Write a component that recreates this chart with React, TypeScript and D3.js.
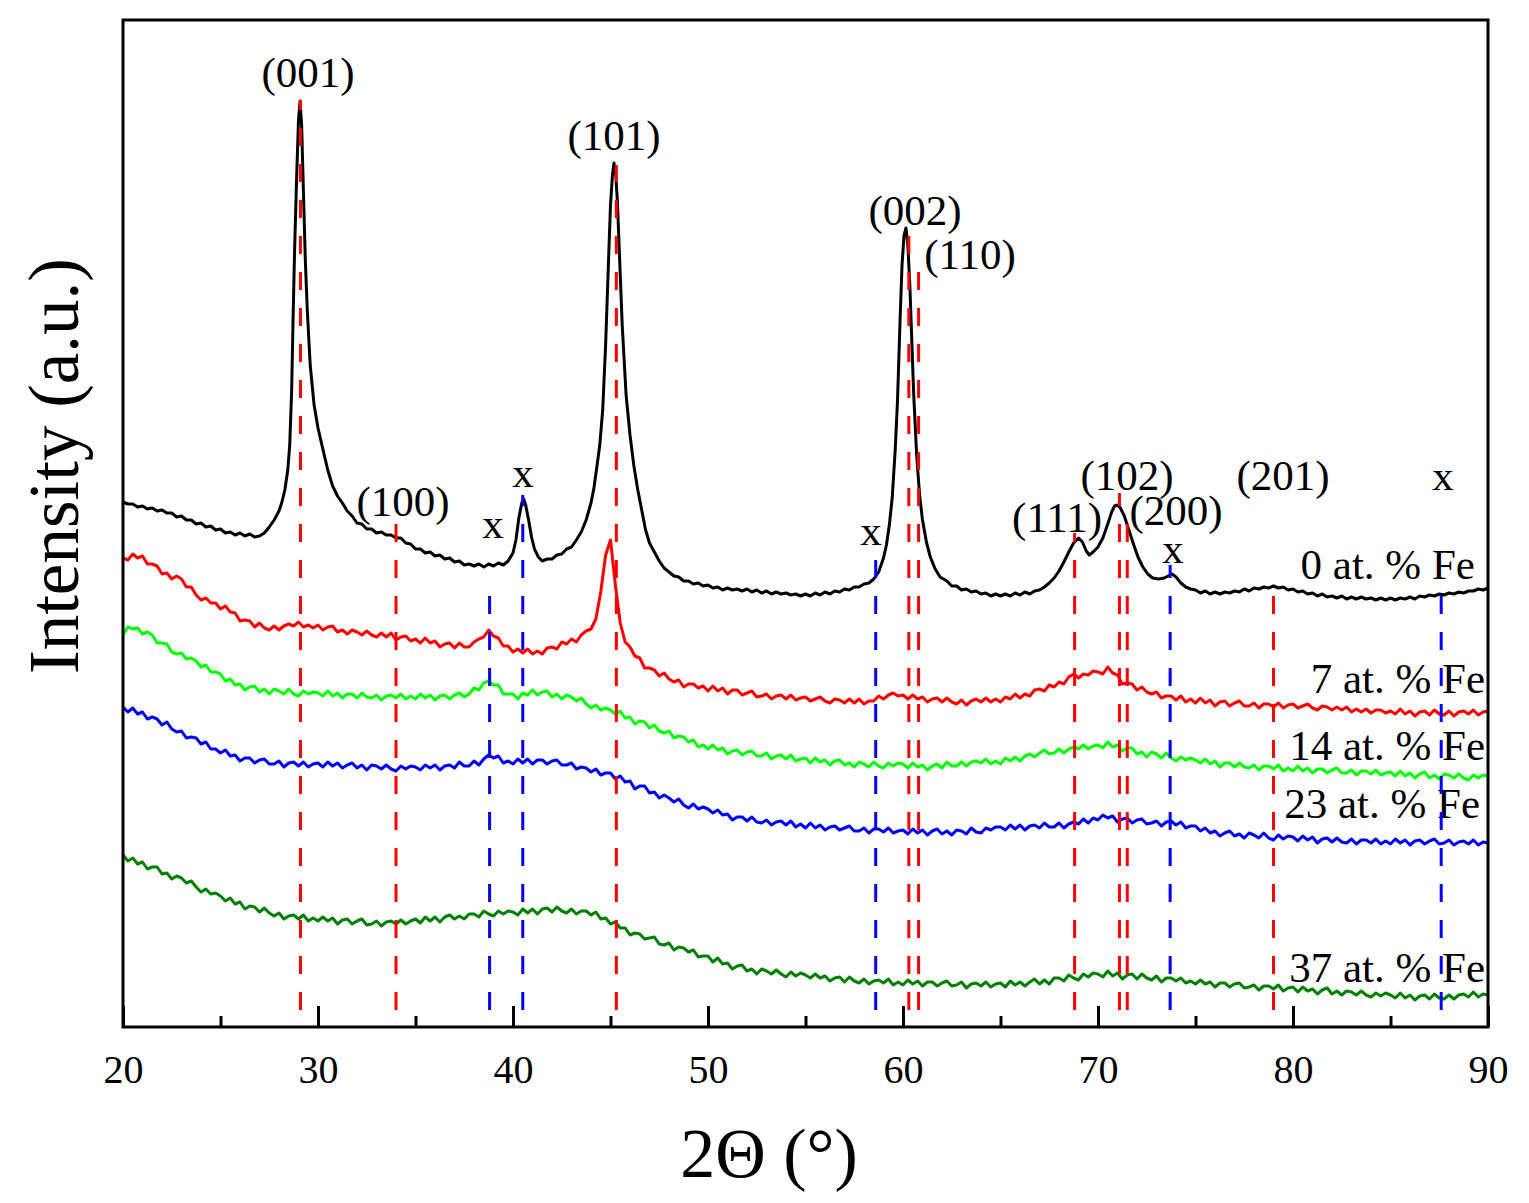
import React, { useEffect, useRef } from "react";
import * as d3 from "d3";

// scan grid shared by the four doped samples (2theta, degrees)
const scanStart = 20;
const scanEnd = 90;
const scanStep = 0.25;

// 0 at.% Fe, sampled more densely around the reflections: [2theta, intensity]
const fe0: [number, number][] = [
  [20, 525], [20.25, 523], [20.5, 523], [20.75, 520], [21, 521], [21.25, 518], [21.5, 519], [21.75, 516],
  [22, 517], [22.25, 514], [22.5, 514], [22.75, 510], [23, 511], [23.25, 507], [23.5, 507], [23.75, 503],
  [24, 504], [24.25, 500], [24.5, 501], [24.75, 497], [25, 498], [25.25, 494], [25.5, 495], [25.75, 492],
  [26, 494], [26.25, 491], [26.5, 493], [26.75, 490], [27, 491], [27.25, 494], [27.5, 500], [27.75, 507],
  [28, 516], [28.15, 525], [28.3, 537], [28.45, 557], [28.55, 582], [28.65, 637], [28.72, 707], [28.8, 777],
  [28.9, 847], [29.0, 907], [29.08, 926], [29.16, 902], [29.25, 837], [29.35, 767], [29.45, 717], [29.6, 662],
  [29.8, 622], [30.0, 599], [30.2, 582], [30.5, 557], [30.75, 541], [31.0, 531], [31.25, 524], [31.5, 516],
  [31.75, 511], [32, 504], [32.25, 503], [32.5, 498], [32.75, 498], [33, 494], [33.25, 495], [33.5, 492],
  [33.75, 492], [34, 489], [34.25, 489], [34.5, 484], [34.75, 483], [35, 478], [35.25, 478], [35.5, 474],
  [35.75, 475], [36, 471], [36.25, 472], [36.5, 468], [36.75, 469], [37, 465], [37.25, 466], [37.5, 462],
  [37.75, 463], [38, 461], [38.25, 463], [38.5, 460], [38.75, 463], [39, 461], [39.25, 464], [39.5, 462],
  [39.75, 466], [40.0, 474], [40.15, 487], [40.3, 509], [40.45, 524], [40.55, 528], [40.65, 522], [40.8, 507],
  [40.95, 490], [41.1, 478], [41.3, 470], [41.5, 466], [41.75, 468], [42, 468], [42.25, 472], [42.5, 473],
  [42.75, 478], [43, 480], [43.25, 487], [43.5, 495], [43.75, 507], [44.0, 524], [44.15, 539], [44.3, 560],
  [44.45, 582], [44.6, 617], [44.75, 682], [44.9, 767], [45.0, 822], [45.1, 852], [45.18, 864], [45.26, 855],
  [45.35, 827], [45.45, 777], [45.6, 702], [45.8, 632], [46.0, 592], [46.2, 561], [46.4, 537], [46.6, 517],
  [46.8, 497], [47.0, 484], [47.25, 475], [47.5, 466], [47.75, 459], [48, 455], [48.25, 451], [48.5, 450],
  [48.75, 446], [49, 446], [49.25, 443], [49.5, 444], [49.75, 441], [50, 442], [50.25, 439], [50.5, 440],
  [50.75, 437], [51, 439], [51.25, 437], [51.5, 438], [51.75, 436], [52, 438], [52.25, 435], [52.5, 437],
  [52.75, 434], [53, 436], [53.25, 433], [53.5, 435], [53.75, 433], [54, 434], [54.25, 432], [54.5, 433],
  [54.75, 431], [55, 433], [55.25, 431], [55.5, 434], [55.75, 432], [56, 435], [56.25, 433], [56.5, 436],
  [56.75, 435], [57, 438], [57.25, 437], [57.5, 440], [57.75, 440], [58.0, 443], [58.25, 444], [58.5, 448],
  [58.75, 455], [59.0, 469], [59.15, 482], [59.3, 502], [59.45, 530], [59.6, 577], [59.72, 627], [59.85, 707],
  [59.95, 762], [60.05, 791], [60.15, 799], [60.25, 782], [60.35, 742], [60.45, 687], [60.55, 632], [60.7, 572],
  [60.85, 532], [61.0, 507], [61.2, 485], [61.4, 470], [61.65, 458], [61.9, 450], [62.25, 446], [62.5, 441],
  [62.75, 441], [63, 437], [63.25, 438], [63.5, 435], [63.75, 436], [64, 433], [64.25, 434], [64.5, 431],
  [64.75, 433], [65, 431], [65.25, 433], [65.5, 431], [65.75, 434], [66, 432], [66.25, 435], [66.5, 433],
  [66.75, 436], [67, 437], [67.25, 440], [67.5, 444], [67.75, 449], [68, 456], [68.25, 465], [68.5, 475],
  [68.75, 484], [69.0, 489], [69.2, 485], [69.4, 476], [69.55, 472], [69.75, 475], [70.0, 480], [70.25, 489],
  [70.5, 503], [70.7, 515], [70.85, 521], [71.0, 522], [71.15, 519], [71.35, 511], [71.55, 499], [71.8, 484],
  [72.05, 470], [72.3, 460], [72.55, 453], [72.8, 449], [73.1, 448], [73.4, 449], [73.6, 451], [73.8, 453],
  [74.0, 450], [74.25, 444], [74.5, 440], [74.75, 438], [75, 437], [75.25, 434], [75.5, 436], [75.75, 433],
  [76, 435], [76.25, 433], [76.5, 435], [76.75, 434], [77, 436], [77.25, 435], [77.5, 438], [77.75, 436],
  [78, 439], [78.25, 438], [78.5, 440], [78.75, 439], [79, 441], [79.25, 439], [79.5, 440], [79.75, 437],
  [80, 438], [80.25, 435], [80.5, 436], [80.75, 433], [81, 434], [81.25, 431], [81.5, 433], [81.75, 430],
  [82, 431], [82.25, 429], [82.5, 431], [82.75, 428], [83, 430], [83.25, 428], [83.5, 430], [83.75, 428],
  [84, 429], [84.25, 427], [84.5, 429], [84.75, 427], [85, 429], [85.25, 427], [85.5, 429], [85.75, 428],
  [86, 430], [86.25, 428], [86.5, 431], [86.75, 430], [87, 432], [87.25, 431], [87.5, 433], [87.75, 432],
  [88, 434], [88.25, 433], [88.5, 435], [88.75, 434], [89, 436], [89.25, 436], [89.5, 438], [89.75, 437],
  [90, 439],
];

// one value per 0.25 deg step, 20..90
const fe7 = [
  469, 467, 473, 469, 471, 463, 463, 461, 453, 454, 448, 451, 448, 440, 440, 432, 427, 429, 424, 424,
  418, 421, 415, 414, 406, 407, 406, 400, 404, 399, 397, 401, 397, 401, 403, 401, 405, 400, 402, 399,
  402, 397, 400, 401, 395, 397, 393, 397, 395, 392, 396, 392, 390, 394, 390, 394, 387, 390, 391, 386,
  388, 384, 389, 384, 386, 380, 383, 384, 379, 384, 380, 380, 385, 388, 390, 397, 391, 389, 381, 381,
  375, 378, 374, 378, 373, 376, 373, 379, 380, 378, 385, 383, 388, 385, 392, 396, 398, 408, 435, 472,
  487, 442, 404, 385, 380, 371, 369, 359, 359, 357, 351, 354, 348, 345, 347, 340, 343, 343, 339, 341,
  336, 341, 336, 339, 333, 337, 337, 332, 334, 336, 330, 331, 333, 328, 331, 332, 328, 332, 327, 329,
  330, 326, 328, 330, 326, 324, 328, 327, 324, 328, 324, 328, 323, 326, 326, 331, 328, 332, 334, 331,
  332, 328, 332, 328, 330, 325, 328, 329, 325, 329, 325, 323, 327, 322, 326, 328, 325, 329, 325, 328,
  325, 330, 328, 333, 329, 333, 331, 337, 338, 336, 342, 340, 345, 343, 350, 353, 349, 353, 352, 356,
  355, 353, 360, 354, 352, 343, 344, 343, 337, 340, 335, 333, 335, 329, 331, 331, 327, 331, 325, 328,
  324, 329, 324, 327, 321, 325, 326, 321, 324, 326, 321, 321, 324, 319, 323, 323, 320, 324, 319, 322,
  323, 319, 321, 323, 319, 317, 321, 320, 317, 320, 317, 320, 315, 318, 315, 318, 314, 317, 317, 314,
  316, 313, 318, 313, 316, 311, 315, 316, 312, 317, 313, 312, 316, 311, 315, 316, 313, 317, 312, 315,
  316,
];

const fe14 = [
  392, 400, 398, 399, 393, 395, 392, 384, 384, 383, 375, 373, 374, 368, 369, 366, 360, 362, 355, 355,
  353, 346, 348, 342, 343, 337, 340, 341, 335, 338, 333, 338, 336, 333, 338, 333, 331, 336, 333, 335,
  334, 331, 336, 331, 334, 329, 333, 333, 329, 334, 330, 329, 332, 327, 331, 332, 329, 333, 328, 331,
  328, 333, 329, 332, 327, 331, 332, 328, 332, 334, 330, 333, 339, 337, 344, 346, 342, 342, 333, 333,
  333, 328, 334, 332, 337, 332, 335, 336, 330, 333, 328, 332, 330, 326, 329, 323, 319, 322, 317, 319,
  317, 313, 316, 309, 310, 303, 306, 305, 299, 302, 296, 294, 296, 289, 291, 290, 285, 287, 280, 282,
  278, 282, 277, 279, 273, 276, 277, 272, 275, 276, 271, 271, 274, 268, 271, 272, 268, 272, 266, 268,
  269, 264, 269, 265, 267, 262, 266, 267, 262, 264, 260, 265, 263, 260, 265, 261, 259, 264, 261, 264,
  263, 259, 264, 260, 262, 257, 261, 263, 259, 265, 261, 261, 265, 261, 265, 266, 264, 268, 263, 266,
  263, 269, 266, 270, 266, 271, 273, 270, 274, 277, 273, 274, 278, 274, 278, 280, 278, 282, 278, 281,
  282, 279, 285, 280, 282, 276, 279, 279, 273, 275, 270, 275, 273, 269, 274, 269, 266, 270, 267, 269,
  267, 264, 268, 263, 266, 260, 264, 264, 260, 264, 260, 259, 262, 257, 261, 261, 258, 262, 256, 259,
  256, 261, 256, 259, 254, 258, 258, 254, 257, 259, 254, 254, 257, 252, 256, 256, 253, 257, 252, 254,
  255, 251, 256, 251, 254, 249, 253, 255, 249, 252, 248, 253, 252, 249, 253, 249, 247, 252, 249, 252,
  251,
];

const fe23 = [
  320, 315, 319, 313, 315, 308, 310, 308, 302, 305, 298, 295, 296, 289, 290, 289, 283, 285, 278, 278,
  274, 277, 271, 272, 266, 269, 269, 264, 267, 268, 263, 263, 266, 260, 264, 265, 261, 265, 260, 263,
  264, 260, 265, 261, 264, 259, 262, 264, 259, 262, 257, 262, 261, 258, 262, 258, 256, 261, 258, 261,
  260, 257, 262, 259, 262, 257, 261, 262, 259, 265, 261, 261, 266, 262, 268, 272, 269, 271, 264, 266,
  263, 268, 264, 268, 263, 267, 267, 263, 266, 267, 262, 262, 264, 258, 260, 259, 255, 258, 252, 254,
  254, 248, 251, 245, 246, 238, 241, 241, 234, 235, 229, 232, 229, 225, 228, 222, 219, 223, 218, 220,
  218, 214, 217, 212, 213, 207, 210, 210, 206, 210, 205, 204, 207, 202, 205, 206, 202, 206, 200, 203,
  199, 204, 199, 202, 197, 200, 201, 197, 199, 201, 196, 196, 199, 194, 198, 198, 195, 199, 194, 196,
  197, 193, 198, 194, 197, 192, 196, 198, 193, 196, 192, 197, 196, 193, 199, 195, 194, 199, 197, 200,
  200, 197, 202, 198, 202, 197, 201, 202, 199, 204, 200, 200, 204, 199, 203, 205, 203, 208, 204, 209,
  207, 212, 209, 211, 205, 208, 209, 204, 207, 208, 203, 204, 206, 201, 205, 206, 202, 205, 199, 201,
  201, 196, 199, 194, 196, 191, 194, 196, 191, 193, 189, 194, 192, 189, 194, 189, 187, 192, 188, 191,
  190, 186, 191, 187, 190, 184, 188, 189, 185, 189, 185, 184, 188, 183, 187, 187, 184, 188, 183, 186,
  183, 188, 184, 187, 182, 186, 187, 183, 186, 188, 183, 184, 187, 182, 185, 186, 183, 187, 182, 185,
  184,
];

const fe37 = [
  172, 166, 169, 163, 165, 158, 160, 160, 153, 154, 148, 151, 149, 144, 146, 140, 135, 138, 133, 134,
  131, 126, 129, 123, 125, 118, 121, 120, 115, 119, 114, 111, 114, 108, 111, 112, 108, 112, 106, 109,
  106, 110, 106, 109, 103, 107, 108, 103, 106, 108, 102, 103, 106, 101, 105, 106, 103, 107, 103, 106,
  108, 104, 110, 106, 110, 105, 110, 112, 108, 111, 108, 113, 113, 110, 116, 113, 111, 116, 113, 116,
  115, 112, 118, 114, 118, 113, 118, 119, 115, 120, 116, 114, 118, 113, 116, 116, 112, 115, 108, 109,
  103, 105, 99, 99, 92, 94, 93, 88, 89, 90, 83, 82, 84, 77, 80, 79, 75, 77, 70, 71,
  71, 65, 69, 63, 64, 58, 61, 62, 56, 58, 53, 58, 56, 53, 57, 53, 50, 55, 51, 54,
  52, 49, 53, 49, 51, 46, 49, 50, 45, 50, 46, 44, 48, 43, 46, 47, 44, 48, 42, 45,
  42, 47, 43, 46, 41, 45, 45, 41, 44, 46, 41, 42, 45, 39, 43, 44, 41, 45, 40, 43,
  44, 40, 46, 42, 45, 41, 45, 48, 43, 47, 43, 49, 49, 46, 52, 49, 47, 53, 50, 54,
  53, 50, 56, 51, 54, 48, 52, 53, 48, 53, 49, 47, 51, 45, 49, 49, 46, 49, 44, 46,
  43, 47, 43, 45, 40, 44, 44, 40, 43, 44, 39, 40, 42, 37, 41, 41, 38, 42, 36, 39,
  40, 35, 40, 36, 38, 33, 37, 39, 33, 36, 32, 36, 35, 32, 36, 32, 30, 34, 31, 34,
  32, 29, 34, 29, 32, 27, 31, 32, 28, 33, 29, 28, 32, 28, 32, 33, 30, 35, 30, 33,
  32,
];

const sampleNames = ["0 at. % Fe", "7 at. % Fe", "14 at. % Fe", "23 at. % Fe", "37 at. % Fe"];
const sampleColors = ["#000000", "#ff0000", "#00ff00", "#0000ff", "#008000"];
// where each sample name sits (right end of the text, baseline)
const sampleLabelAngle = [89.33, 89.85, 89.85, 89.59, 89.85];
const sampleLabelValue = [448, 334, 267, 209, 45];

// reference reflections: red = main phase, blue = "x" phase
const redRefs = [29.1, 34.0, 45.3, 60.3, 60.8, 68.8, 71.1, 71.5, 79.0];
const redRefTops = [927, 505, 862, 797, 759, 494, 534, 507, 435];
const blueRefs = [38.8, 40.5, 58.6, 73.7, 87.6];
const blueRefTops = [434, 532, 470, 462, 435];
const refBottom = 17;

const peakNames = ["(001)", "(100)", "x", "x", "(101)", "x", "(002)", "(110)", "(111)", "(102)", "(200)", "x", "(201)", "x"];
const peakNameAngle = [29.49, 34.36, 38.97, 40.51, 45.18, 58.36, 60.62, 63.44, 67.9, 71.49, 74.0, 73.85, 79.49, 87.69];
const peakNameValue = [940, 511, 489, 540, 877, 482, 802, 758, 495, 537, 502, 464, 537, 537];

const majorTicks = [20, 30, 40, 50, 60, 70, 80, 90];
const minorTicks = [25, 35, 45, 55, 65, 75, 85];

const serif = "'Liberation Serif', 'Times New Roman', Times, serif";

const XrdChart: React.FC = () => {
  const svgRef = useRef<SVGSVGElement | null>(null);
  const width = 1529;
  const height = 1203;

  useEffect(() => {
    const margin = { top: 20, right: 41, bottom: 176, left: 123 };
    const innerWidth = width - margin.left - margin.right;
    const innerHeight = height - margin.top - margin.bottom;

    const svg = d3.select(svgRef.current).attr("width", width).attr("height", height);
    svg.selectAll("*").remove();

    const g = svg.append("g").attr("transform", `translate(${margin.left},${margin.top})`);

    const x = d3.scaleLinear().domain([scanStart, scanEnd]).range([0, innerWidth]);
    const y = d3.scaleLinear().domain([0, innerHeight]).range([innerHeight, 0]);

    const grid = d3.range(scanStart, scanEnd + scanStep / 2, scanStep);
    const onGrid = (vals: number[]) => vals.map((v, i) => [grid[i], v] as [number, number]);
    const series = [fe0, onGrid(fe7), onGrid(fe14), onGrid(fe23), onGrid(fe37)];

    const line = d3
      .line<[number, number]>()
      .x((d) => x(d[0]))
      .y((d) => y(d[1]));

    series.forEach((pts, i) => {
      g.append("path")
        .datum(pts)
        .attr("fill", "none")
        .attr("stroke", sampleColors[i])
        .attr("stroke-width", 3)
        .attr("stroke-linejoin", "round")
        .attr("d", line);
    });

    // axis ticks point inward
    g.append("g")
      .attr("transform", `translate(0,${innerHeight})`)
      .call(d3.axisBottom(x).tickValues(majorTicks).tickSize(-21).tickPadding(28).tickFormat(d3.format("d")))
      .call((ax) => ax.select(".domain").remove())
      .call((ax) => ax.selectAll("line").attr("stroke", "#000").attr("stroke-width", 3))
      .call((ax) =>
        ax.selectAll("text").attr("font-size", 40).attr("font-family", serif).attr("fill", "#000")
      );

    g.append("g")
      .attr("transform", `translate(0,${innerHeight})`)
      .call(d3.axisBottom(x).tickValues(minorTicks).tickSize(-11).tickFormat(() => ""))
      .call((ax) => ax.select(".domain").remove())
      .call((ax) => ax.selectAll("line").attr("stroke", "#000").attr("stroke-width", 3));

    g.append("rect")
      .attr("x", 0)
      .attr("y", 0)
      .attr("width", innerWidth)
      .attr("height", innerHeight)
      .attr("fill", "none")
      .attr("stroke", "#000")
      .attr("stroke-width", 3);

    const labelFont = 43;

    g.selectAll(".peak-name")
      .data(peakNames)
      .enter()
      .append("text")
      .attr("class", "peak-name")
      .attr("x", (_, i) => x(peakNameAngle[i]))
      .attr("y", (_, i) => y(peakNameValue[i]))
      .attr("text-anchor", "middle")
      .attr("font-family", serif)
      .attr("font-size", labelFont)
      .attr("fill", "#000")
      .text((d) => d);

    g.selectAll(".sample-name")
      .data(sampleNames)
      .enter()
      .append("text")
      .attr("class", "sample-name")
      .attr("x", (_, i) => x(sampleLabelAngle[i]))
      .attr("y", (_, i) => y(sampleLabelValue[i]))
      .attr("text-anchor", "end")
      .attr("font-family", serif)
      .attr("font-size", labelFont)
      .attr("fill", "#000")
      .text((d) => d);

    // dashed reflection markers, drawn from the bottom up so the dashes line up
    const drawRefs = (angles: number[], tops: number[], color: string) => {
      angles.forEach((a, i) => {
        g.append("line")
          .attr("x1", x(a))
          .attr("x2", x(a))
          .attr("y1", y(refBottom))
          .attr("y2", y(tops[i]))
          .attr("stroke", color)
          .attr("stroke-width", 3)
          .attr("stroke-dasharray", "18 18");
      });
    };
    drawRefs(redRefs, redRefTops, "#ff0000");
    drawRefs(blueRefs, blueRefTops, "#0000ff");

    svg
      .append("text")
      .attr("x", 769)
      .attr("y", 1177)
      .attr("text-anchor", "middle")
      .attr("font-family", serif)
      .attr("font-size", 70)
      .attr("fill", "#000")
      .text("2Θ (°)");

    svg
      .append("text")
      .attr("transform", "translate(78,466) rotate(-90)")
      .attr("text-anchor", "middle")
      .attr("font-family", serif)
      .attr("font-size", 71)
      .attr("fill", "#000")
      .text("Intensity (a.u.)");
  }, []);

  return (
    <svg
      ref={svgRef}
      style={{ position: "absolute", left: 0, top: 0, background: "#fff" }}
    ></svg>
  );
};

export default function App() {
  return <XrdChart />;
}
